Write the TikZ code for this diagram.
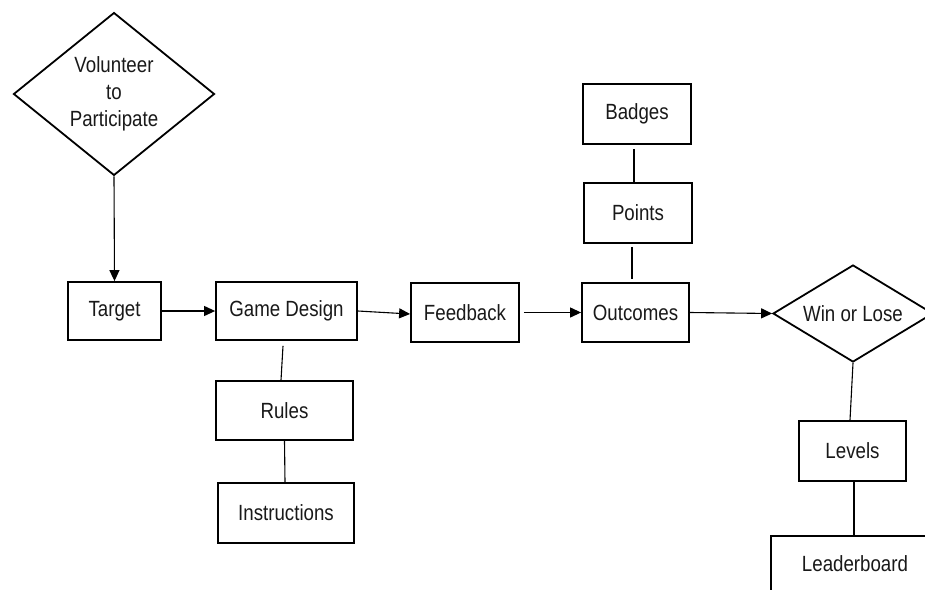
\documentclass[tikz,border=0pt]{standalone}
\usepackage{fontspec}
\setmainfont[FakeStretch=0.85]{Liberation Sans}
\usetikzlibrary{shapes.geometric,arrows.meta}
\begin{document}
\begin{tikzpicture}[x=1pt,y=-1pt,
  every node/.style={font=\fontsize{22}{27}\selectfont, text=black!90},
  box/.style={draw, line width=1.8pt, rectangle, inner sep=0pt},
  dia/.style={draw, line width=1.8pt, diamond, inner sep=0pt, align=center},
  conn/.style={line width=1.1pt},
  arr/.style={line width=1.1pt, -{Triangle[length=11pt,width=10pt]}}
]
\useasboundingbox (0,0) rectangle (925,589);
\fill[white] (0,0) rectangle (925,589);
\clip (0,0) rectangle (925,589);

\node[dia, minimum width=201pt, minimum height=158pt] (vol) at (114,94) {Volunteer\\to\\Participate};
\node[box, minimum width=93pt, minimum height=58pt] (target) at (114.5,311) {Target};
\node[box, minimum width=141pt, minimum height=58pt] (gd) at (286.5,311) {Game Design};
\node[box, minimum width=108pt, minimum height=59pt] (fb) at (465,312.5) {Feedback};
\node[box, minimum width=107pt, minimum height=59pt] (out) at (635.5,312.5) {Outcomes};
\node[box, minimum width=108pt, minimum height=60pt] (pts) at (638,213) {Points};
\node[box, minimum width=108pt, minimum height=60pt] (bdg) at (637,114) {Badges};
\node[box, minimum width=137pt, minimum height=59pt] (rules) at (284.5,410.5) {Rules};
\node[box, minimum width=136pt, minimum height=60pt] (instr) at (286,513) {Instructions};
\node[dia, shape aspect=1.65, minimum width=160pt, minimum height=97pt] (wl) at (853,313.5) {Win or Lose};
\node[box, minimum width=107pt, minimum height=60pt] (lev) at (852.5,451) {Levels};
\node[box, minimum width=168pt, minimum height=56pt] (lead) at (855,564) {Leaderboard};

\draw[arr] (vol.south) -- (target.north);
\draw[arr] (target.east) -- (gd.west);
\draw[arr] (gd.east) -- ([yshift=-1.5pt]fb.west);
\draw[arr] ([xshift=4pt]fb.east) -- (out.west);
\draw[arr] (out.east) -- (wl.west);

\draw[conn] ([xshift=-3.5pt,yshift=-5pt]gd.south) -- ([xshift=-3.5pt]rules.north);
\draw[conn] (rules.south) -- ([xshift=-1pt]instr.north);
\draw[conn] ([xshift=-3pt,yshift=-4pt]bdg.south) -- ([xshift=-4pt]pts.north);
\draw[conn] ([xshift=-6pt,yshift=-3pt]pts.south) -- ([xshift=-3.5pt,yshift=3pt]out.north);
\draw[conn] (wl.south) -- ([xshift=-2.5pt]lev.north);
\draw[conn] ([xshift=1.5pt]lev.south) -- ([xshift=-1pt]lead.north);
\end{tikzpicture}
\end{document}
